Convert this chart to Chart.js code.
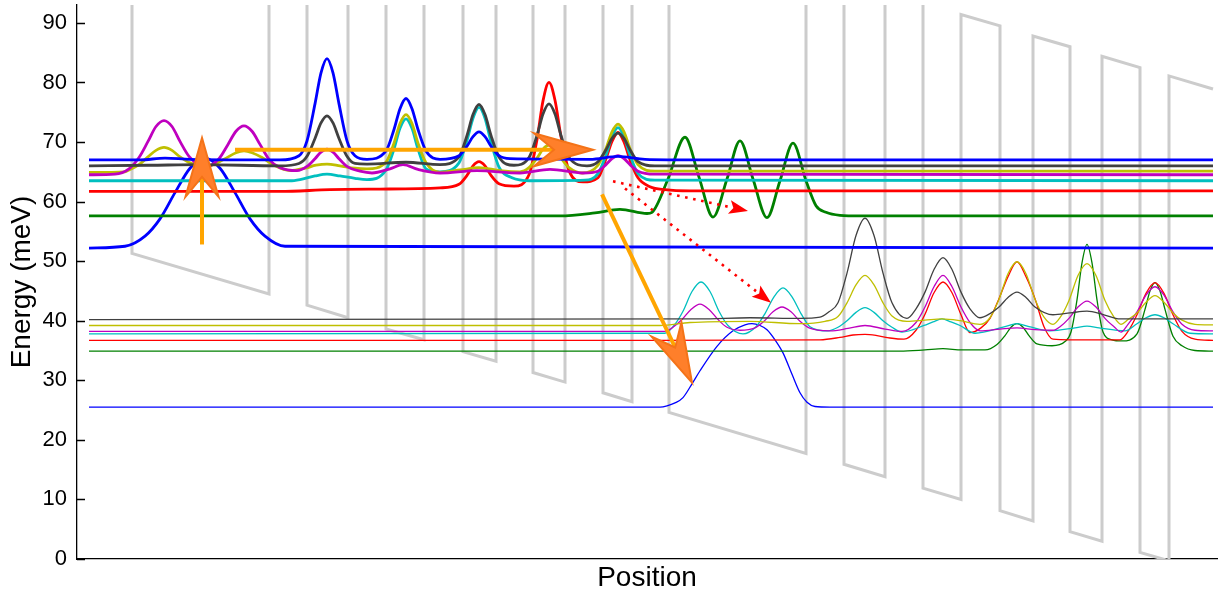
<!DOCTYPE html>
<html>
<head>
<meta charset="utf-8">
<script src="https://cdn.jsdelivr.net/npm/chart.js@4.4.1/dist/chart.umd.min.js"></script>
<style>
  html, body { margin: 0; padding: 0; background: #ffffff; }
  #wrap { width: 1222px; height: 593px; }
</style>
</head>
<body>
<div id="wrap"><canvas id="c" width="1222" height="593"></canvas></div>
<script>
// Energy axis ticks (meV)
const energyTicks = [0, 10, 20, 30, 40, 50, 60, 70, 80, 90];

// Conduction band edge under bias: [position (Å), energy (meV)]
const bandEdge = [
  [55,132.7],[55,51.3],[192,44.5],[192,125.9],[230,124.0],[230,42.6],[271,40.5],[271,121.9],
  [309,120.0],[309,38.6],[347,36.8],[347,118.2],[386,116.2],[386,34.8],[419,33.2],[419,114.6],
  [456,112.7],[456,31.3],[488,29.7],[488,111.1],[526,109.3],[526,27.9],[555,26.4],[555,107.8],
  [592,106.0],[592,24.6],[729,17.7],[729,99.1],[767,97.3],[767,15.9],[808,13.8],[808,95.2],
  [846,93.3],[846,11.9],[884,10.0],[884,91.4],[923,89.5],[923,8.1],[956,6.4],[956,87.8],
  [993,86.0],[993,4.6],[1025,3.0],[1025,84.4],[1063,82.5],[1063,1.1],[1092,-0.3],[1092,81.1],
  [1136,78.9]
];

// Upper period: |psi|^2 offset by subband energy
const upBlue52 = [[12,52.2],[48,52.5],[68,54.2],[83,57.1],[98,61.5],[113,65.6],[128,67.3],[143,65.6],
  [158,61.5],[173,57.1],[188,54.2],[208,52.5],[1136,52.2]];
const upGreen58 = [[12,57.6],[483,57.6],[518,58.1],[543,58.7],[570,58.0],[575,58.2],[591,63.8],[608,70.8],
  [622,64.1],[636,57.4],[650,63.8],[663,70.2],[676,63.8],[690,57.3],[703,63.5],[716,69.8],[729,63.5],
  [739,59.3],[749,58.2],[763,57.7],[783,57.6],[1136,57.6]];
const upRed62 = [[12,61.7],[203,61.7],[253,62.0],[303,62.1],[363,62.3],[382,62.9],[390,64.4],[396,66.0],
  [402,66.7],[408,66.0],[414,64.4],[422,63.0],[437,62.6],[452,64.5],[460,70.4],[466,76.9],[472,80.0],
  [478,77.0],[484,70.9],[492,65.2],[506,63.3],[521,64.0],[529,67.2],[535,70.1],[541,71.6],[547,70.0],
  [553,67.0],[561,64.0],[573,62.5],[588,62.0],[613,61.8],[1136,61.8]];
const upCyan63 = [[12,63.5],[213,63.5],[223,63.7],[238,64.3],[250,64.6],[263,64.3],[278,63.9],[290,63.7],
  [309,65.3],[317,68.8],[323,72.3],[329,73.9],[335,72.3],[341,68.8],[349,65.5],[363,65.0],[382,66.5],
  [390,70.3],[396,74.0],[402,75.8],[408,74.0],[414,70.0],[422,65.8],[435,64.0],[453,63.5],[508,63.6],
  [521,64.7],[529,67.8],[535,70.9],[541,72.4],[547,70.9],[553,67.8],[561,64.7],[578,63.6],[1136,63.5]];
const upYellow65 = [[12,64.9],[48,65.0],[52,65.3],[62,66.2],[71,67.5],[79,68.6],[87,69.1],[95,68.6],
  [103,67.5],[113,66.5],[130,65.9],[147,67.1],[159,68.2],[167,68.5],[175,68.2],[185,67.4],[198,66.0],
  [213,65.2],[228,65.6],[239,66.1],[250,66.3],[263,66.0],[278,65.6],[290,65.5],[309,66.6],[317,69.8],
  [323,73.1],[329,74.6],[335,73.1],[341,69.8],[349,66.5],[363,64.9],[383,65.3],[402,65.7],[423,65.2],
  [443,65.0],[452,65.7],[460,67.3],[466,68.8],[472,69.5],[478,68.8],[484,67.3],[492,65.7],[505,64.8],
  [521,66.1],[529,68.9],[535,71.7],[541,73.0],[547,71.7],[553,68.9],[561,66.2],[578,65.1],[1136,65.1]];
const upMagenta65 = [[12,64.5],[38,64.6],[52,65.5],[62,67.4],[71,70.1],[79,72.6],[87,73.6],[95,72.6],
  [103,70.1],[112,67.6],[128,65.8],[142,67.2],[151,69.6],[159,71.8],[167,72.7],[175,71.8],[183,69.6],
  [192,67.1],[203,65.7],[220,65.2],[230,65.9],[238,67.2],[244,68.3],[250,68.8],[256,68.3],[262,67.2],
  [270,65.9],[283,65.1],[295,64.8],[313,65.5],[326,66.2],[341,65.4],[363,64.8],[400,65.2],[443,64.8],
  [473,65.4],[506,64.8],[521,65.1],[529,66.2],[535,67.2],[541,67.7],[547,67.2],[553,66.2],[561,65.1],
  [578,64.6],[1136,64.5]];
const upBlack66 = [[12,66.0],[73,66.1],[123,66.2],[203,66.0],[222,66.4],[230,67.6],[238,70.6],[244,73.2],
  [250,74.4],[256,73.2],[262,70.6],[270,67.6],[278,66.4],[290,66.3],[329,66.6],[363,66.2],[382,67.5],
  [390,71.1],[396,74.6],[402,76.3],[408,74.6],[414,71.1],[422,67.5],[437,66.1],[452,67.4],[460,71.1],
  [466,74.7],[472,76.4],[478,74.7],[484,71.1],[492,67.4],[510,66.0],[521,66.7],[529,68.7],[535,70.6],
  [541,71.5],[547,70.6],[553,68.7],[561,66.7],[578,66.0],[1136,66.0]];
const upBlue67 = [[12,67.0],[63,67.0],[88,67.3],[113,67.1],[203,67.0],[222,67.7],[230,70.2],[238,76.4],
  [244,81.6],[250,84.0],[256,81.6],[262,76.4],[270,70.2],[278,67.7],[290,67.1],[309,68.5],[317,72.1],
  [323,75.6],[329,77.3],[335,75.6],[341,72.1],[349,68.5],[363,67.1],[382,67.7],[390,69.3],[396,70.9],
  [402,71.7],[408,70.9],[414,69.3],[422,67.7],[433,67.2],[513,67.1],[541,67.6],[568,67.1],[623,67.0],
  [1136,67.0]];

// Lower period
const loBlue26 = [[12,25.5],[583,25.5],[590,25.7],[598,26.2],[606,27.1],[615,29.4],[623,31.6],[640,35.7],
  [656,38.3],[668,39.3],[675,39.5],[683,39.2],[690,38.5],[698,36.8],[706,34.6],[715,31.0],[723,27.9],
  [730,26.3],[738,25.6],[753,25.5],[1136,25.5]];
const loGreen35 = [[12,34.9],[823,34.9],[848,35.1],[866,35.3],[885,35.1],[908,35.1],[920,36.0],[928,37.5],
  [934,38.9],[940,39.5],[946,38.9],[952,37.5],[960,36.1],[975,35.8],[988,36.5],[994,38.1],[1000,43.5],
  [1005,49.7],[1010,52.8],[1015,49.7],[1020,43.5],[1026,38.1],[1035,36.8],[1045,36.6],[1060,37.8],
  [1068,41.9],[1073,45.0],[1078,46.4],[1083,45.0],[1088,41.9],[1096,37.4],[1105,35.8],[1118,35.0],
  [1136,34.9]];
const loRed37 = [[12,36.7],[583,36.7],[743,36.8],[763,37.2],[776,37.6],[788,37.7],[800,37.5],[813,37.1],
  [827,36.9],[839,38.4],[848,41.1],[857,44.7],[866,46.5],[875,44.7],[884,41.0],[893,38.0],[904,38.8],
  [913,40.4],[922,43.7],[931,47.4],[940,49.9],[949,47.4],[958,43.7],[967,39.0],[976,36.9],[993,36.8],
  [1043,36.8],[1051,38.2],[1060,41.0],[1069,44.6],[1078,46.4],[1087,44.6],[1096,41.0],[1105,38.2],
  [1118,36.9],[1136,36.7]];
const loCyan38 = [[12,37.8],[588,37.9],[597,39.2],[606,41.6],[615,44.9],[624,46.5],[633,44.9],[642,41.6],
  [651,39.2],[666,37.8],[679,39.0],[688,41.2],[697,44.0],[706,45.5],[715,44.0],[724,41.2],[733,39.0],
  [751,38.3],[761,38.9],[770,40.0],[779,41.4],[788,42.2],[797,41.4],[806,40.0],[815,38.9],[825,38.1],
  [847,39.2],[856,39.8],[865,40.3],[874,39.8],[883,39.2],[898,37.9],[928,39.0],[940,39.5],[952,39.0],
  [973,38.3],[998,38.8],[1010,39.1],[1022,38.8],[1048,38.3],[1060,39.5],[1069,40.5],[1078,41.0],
  [1087,40.5],[1096,39.5],[1113,37.9],[1136,37.8]];
const loMagenta38 = [[12,38.2],[588,38.2],[596,38.9],[605,40.2],[614,41.9],[623,42.8],[632,41.9],[641,40.2],
  [650,38.9],[663,38.4],[678,38.8],[687,39.9],[696,41.5],[705,42.3],[714,41.5],[723,39.9],[732,38.8],
  [753,38.3],[771,38.7],[788,39.2],[808,38.6],[825,38.2],[839,39.7],[848,42.3],[857,45.7],[866,47.6],
  [875,45.7],[884,42.3],[893,39.7],[903,38.3],[923,38.6],[940,38.8],[958,38.5],[976,38.4],[983,39.0],
  [992,40.4],[1001,42.3],[1010,43.3],[1019,42.3],[1028,40.4],[1037,39.0],[1044,38.1],[1051,39.4],
  [1060,41.5],[1069,44.3],[1078,45.7],[1087,44.3],[1096,41.5],[1105,39.4],[1118,38.4],[1136,38.3]];
const loYellow39 = [[12,39.2],[583,39.2],[613,39.7],[673,39.9],[723,39.5],[748,39.9],[761,40.7],[770,43.0],
  [779,46.0],[788,47.6],[797,46.0],[806,43.0],[815,40.8],[830,39.9],[848,40.1],[865,40.3],[883,40.0],
  [903,39.4],[913,40.5],[922,43.6],[931,47.9],[940,49.9],[949,47.9],[958,43.6],[967,40.6],[976,39.4],
  [983,40.5],[992,43.4],[1001,47.6],[1010,49.6],[1019,47.6],[1028,43.4],[1037,40.6],[1044,39.4],
  [1051,40.2],[1060,41.3],[1069,43.1],[1078,44.2],[1087,43.1],[1096,41.3],[1105,40.1],[1118,39.4],
  [1136,39.3]];
const loBlack40 = [[12,40.2],[623,40.3],[673,40.5],[723,40.4],[743,40.6],[752,41.5],[761,43.0],[770,48.0],
  [779,54.3],[788,57.2],[797,54.3],[806,48.0],[815,43.0],[830,40.4],[839,42.0],[848,44.8],[857,48.6],
  [866,50.6],[875,48.6],[884,44.8],[893,42.0],[903,40.5],[913,41.2],[922,42.3],[931,43.9],[940,44.8],
  [949,43.9],[958,42.3],[976,41.0],[993,41.3],[1010,41.6],[1027,41.0],[1043,40.3],[1136,40.3]];

// Transition arrows: [start], [end] in (Å, meV)
const opticalUp = [[125, 52.8], [125, 70.7]];
const tunnelRight = [[158, 68.7], [516, 68.7]];
const extraction = [[525, 61.2], [615, 29.6]];
const scatterA = [[536, 63.4], [671, 58.4]];
const scatterB = [[548, 62.2], [694, 43.0]];

const C = {
  blue: '#0000ff', green: '#008000', red: '#ff0000', cyan: '#00bfbf',
  magenta: '#bf00bf', yellow: '#bfbf00', black: '#404040', band: '#cccccc'
};

const toXY = arr => arr.map(p => ({ x: p[0], y: p[1] }));

function psi(data, color, width, order) {
  return {
    data: toXY(data), borderColor: color, borderWidth: width, pointRadius: 0,
    fill: false, cubicInterpolationMode: 'monotone', order: order
  };
}

const datasets = [
  psi(upBlue67, C.blue, 2.8, 1),
  psi(upBlack66, C.black, 2.8, 2),
  psi(upMagenta65, C.magenta, 2.8, 3),
  psi(upYellow65, C.yellow, 2.8, 4),
  psi(upCyan63, C.cyan, 2.8, 5),
  psi(upRed62, C.red, 2.8, 6),
  psi(upGreen58, C.green, 2.8, 7),
  psi(upBlue52, C.blue, 2.8, 8),
  psi(loBlack40, C.black, 1.3, 9),
  psi(loYellow39, C.yellow, 1.3, 10),
  psi(loMagenta38, C.magenta, 1.3, 11),
  psi(loCyan38, C.cyan, 1.3, 12),
  psi(loRed37, C.red, 1.3, 13),
  psi(loGreen35, C.green, 1.3, 14),
  psi(loBlue26, C.blue, 1.3, 15),
  { data: toXY(bandEdge), borderColor: C.band, borderWidth: 3, pointRadius: 0,
    fill: false, tension: 0, order: 20, borderJoinStyle: 'miter' }
];

function px(chart, p) {
  return [chart.scales.x.getPixelForValue(p[0]), chart.scales.y.getPixelForValue(p[1])];
}

function fancyArrow(ctx, a, b) {
  const [x0, y0] = a, [x1, y1] = b;
  const dx = x1 - x0, dy = y1 - y0, L = Math.hypot(dx, dy);
  const ux = dx / L, uy = dy / L, nx = -uy, ny = ux;
  const headLen = 59, halfW = 16.5, notch = 39;
  ctx.save();
  ctx.strokeStyle = '#ffa500';
  ctx.lineWidth = 4;
  ctx.lineCap = 'butt';
  ctx.beginPath();
  ctx.moveTo(x0, y0);
  ctx.lineTo(x1 - ux * notch, y1 - uy * notch);
  ctx.stroke();
  const bx = x1 - ux * headLen, by = y1 - uy * headLen;
  ctx.beginPath();
  ctx.moveTo(x1, y1);
  ctx.lineTo(bx + nx * halfW, by + ny * halfW);
  ctx.lineTo(x1 - ux * notch, y1 - uy * notch);
  ctx.lineTo(bx - nx * halfW, by - ny * halfW);
  ctx.closePath();
  ctx.fillStyle = '#ff7f2a';
  ctx.fill();
  ctx.strokeStyle = '#f47318';
  ctx.lineWidth = 2;
  ctx.lineJoin = 'miter';
  ctx.stroke();
  ctx.restore();
}

function dottedArrow(ctx, a, b) {
  const [x0, y0] = a, [x1, y1] = b;
  const dx = x1 - x0, dy = y1 - y0, L = Math.hypot(dx, dy);
  const ux = dx / L, uy = dy / L, nx = -uy, ny = ux;
  const headLen = 19, halfW = 7;
  ctx.save();
  ctx.strokeStyle = '#ff0000';
  ctx.lineWidth = 2.6;
  ctx.setLineDash([2.6, 5.6]);
  ctx.beginPath();
  ctx.moveTo(x0, y0);
  ctx.lineTo(x1 - ux * headLen, y1 - uy * headLen);
  ctx.stroke();
  ctx.setLineDash([]);
  const bx = x1 - ux * headLen, by = y1 - uy * headLen;
  ctx.beginPath();
  ctx.moveTo(x1, y1);
  ctx.lineTo(bx + nx * halfW, by + ny * halfW);
  ctx.lineTo(x1 - ux * (headLen - 4), y1 - uy * (headLen - 4));
  ctx.lineTo(bx - nx * halfW, by - ny * halfW);
  ctx.closePath();
  ctx.fillStyle = '#ff0000';
  ctx.fill();
  ctx.restore();
}

const decorations = {
  id: 'decorations',
  afterDatasetsDraw(chart) {
    const ctx = chart.ctx;
    dottedArrow(ctx, px(chart, scatterA[0]), px(chart, scatterA[1]));
    dottedArrow(ctx, px(chart, scatterB[0]), px(chart, scatterB[1]));
    fancyArrow(ctx, px(chart, opticalUp[0]), px(chart, opticalUp[1]));
    fancyArrow(ctx, px(chart, tunnelRight[0]), px(chart, tunnelRight[1]));
    fancyArrow(ctx, px(chart, extraction[0]), px(chart, extraction[1]));
  },
  afterDraw(chart) {
    const ctx = chart.ctx, area = chart.chartArea, ys = chart.scales.y;
    ctx.save();
    // inward tick marks on the energy axis
    ctx.strokeStyle = '#000000';
    ctx.lineWidth = 1.3;
    ctx.beginPath();
    energyTicks.forEach(v => {
      const py = Math.round(ys.getPixelForValue(v)) + 0.5;
      ctx.moveTo(area.left, py);
      ctx.lineTo(area.left + 8, py);
    });
    ctx.stroke();
    // axis titles
    ctx.fillStyle = '#000000';
    ctx.font = '28px "Liberation Sans", Arial, sans-serif';
    ctx.textAlign = 'center';
    ctx.textBaseline = 'middle';
    ctx.fillText('Position', (area.left + area.right) / 2, 578);
    ctx.translate(22, (area.top + area.bottom) / 2);
    ctx.rotate(-Math.PI / 2);
    ctx.fillText('Energy (meV)', 0, 0);
    ctx.restore();
  }
};

new Chart(document.getElementById('c'), {
  type: 'line',
  data: { datasets },
  options: {
    responsive: false,
    animation: false,
    devicePixelRatio: 1,
    layout: { padding: { top: 5, right: 5, left: 0, bottom: 0 } },
    plugins: { legend: { display: false }, tooltip: { enabled: false } },
    scales: {
      x: {
        type: 'linear', min: 0, max: 1140,
        grid: { display: false, drawTicks: false },
        border: { display: true, color: '#000000', width: 1.3 },
        ticks: { display: false },
        afterFit: s => { s.height = 34; s.paddingLeft = 0; s.paddingRight = 0; }
      },
      y: {
        type: 'linear', min: 0, max: 93,
        grid: { display: false, drawTicks: false },
        border: { display: true, color: '#000000', width: 1.3 },
        ticks: {
          padding: 10, color: '#000000',
          font: { family: '"Liberation Sans", Arial, sans-serif', size: 22 }
        },
        afterBuildTicks: s => { s.ticks = energyTicks.map(v => ({ value: v })); },
        afterFit: s => { s.width = 77; s.paddingTop = 0; s.paddingBottom = 0; }
      }
    }
  },
  plugins: [decorations]
});
</script>
</body>
</html>
